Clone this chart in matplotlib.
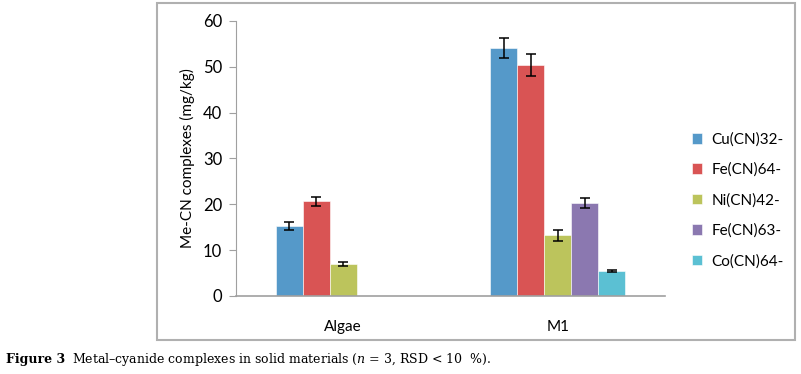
#!/usr/bin/env python3
import matplotlib
matplotlib.use("Agg")
import matplotlib.pyplot as plt
from matplotlib.patches import Rectangle
import numpy as np

# Data
categories = ["Algae", "M1"]
series = ["Cu(CN)32-", "Fe(CN)64-", "Ni(CN)42-", "Fe(CN)63-", "Co(CN)64-"]
values = {
    "Cu(CN)32-": [15.3, 54.1],
    "Fe(CN)64-": [20.7, 50.4],
    "Ni(CN)42-": [7.0, 13.3],
    "Fe(CN)63-": [np.nan, 20.3],
    "Co(CN)64-": [np.nan, 5.4],
}
errors = {
    "Cu(CN)32-": [0.8, 2.1],
    "Fe(CN)64-": [1.0, 2.3],
    "Ni(CN)42-": [0.5, 1.2],
    "Fe(CN)63-": [0, 1.1],
    "Co(CN)64-": [0, 0.25],
}
colors = ["#5599c9", "#d95454", "#bcc45c", "#8b78b0", "#5bc0d3"]

plt.rcParams["mathtext.fontset"] = "dejavuserif"

fig = plt.figure(figsize=(8.01, 3.74), dpi=100)
ax = fig.add_axes([0.2946, 0.2086, 0.5356, 0.7353])

font = ["Lato", "DejaVu Sans"]
x = np.arange(len(categories))
w = 0.126
for i, name in enumerate(series):
    xs = x + (i - 2) * w
    vals = np.array(values[name], dtype=float)
    errs = np.array(errors[name], dtype=float)
    mask = ~np.isnan(vals)
    ax.bar(xs[mask], vals[mask], width=w, color=colors[i], label=name,
           edgecolor="white", linewidth=0.4)
    ax.errorbar(xs[mask], vals[mask], yerr=errs[mask], fmt="none",
                ecolor="black", elinewidth=1.1, capsize=3.5, capthick=1.1)

ax.set_xlim(-0.5, 1.5)
ax.set_ylim(0, 60)
ax.set_yticks(range(0, 61, 10))
ax.set_xticks(x)
ax.set_xticklabels(categories, family=font, fontsize=11)
for t in ax.get_yticklabels():
    t.set_family(font)
    t.set_fontsize(12)
ax.tick_params(axis="x", length=0, pad=17)
ax.tick_params(axis="y", length=5, color="#a0a0a0", pad=5)
for s in ["top", "right"]:
    ax.spines[s].set_visible(False)
ax.spines["left"].set_color("#a0a0a0")
ax.spines["bottom"].set_color("#a0a0a0")
ax.spines["bottom"].set_linewidth(1.2)
ax.set_ylabel("Me-CN complexes (mg/kg)", family=font, fontsize=11, labelpad=6)

ax.legend(loc="upper left", bbox_to_anchor=(1.03, 0.645), frameon=False,
          prop={"family": font, "size": 11}, handlelength=0.7,
          handleheight=0.7, handletextpad=0.6, labelspacing=1.05)

# outer frame of the chart area
fig.patches.append(Rectangle((157 / 801, 1 - 340 / 374), (795 - 157) / 801,
                             (340 - 3) / 374, transform=fig.transFigure,
                             fill=False, edgecolor="#b0b0b0", linewidth=1.5))

fig.text(6 / 801, 1 - 360 / 374, "Figure 3", family="DejaVu Serif",
         fontweight="bold", fontsize=9, va="center")
fig.text(72 / 801, 1 - 360 / 374,
         r"Metal–cyanide complexes in solid materials ($n$ = 3, RSD < 10  %).",
         family="DejaVu Serif", fontsize=9, va="center")

fig.savefig("out.png", dpi=100)
